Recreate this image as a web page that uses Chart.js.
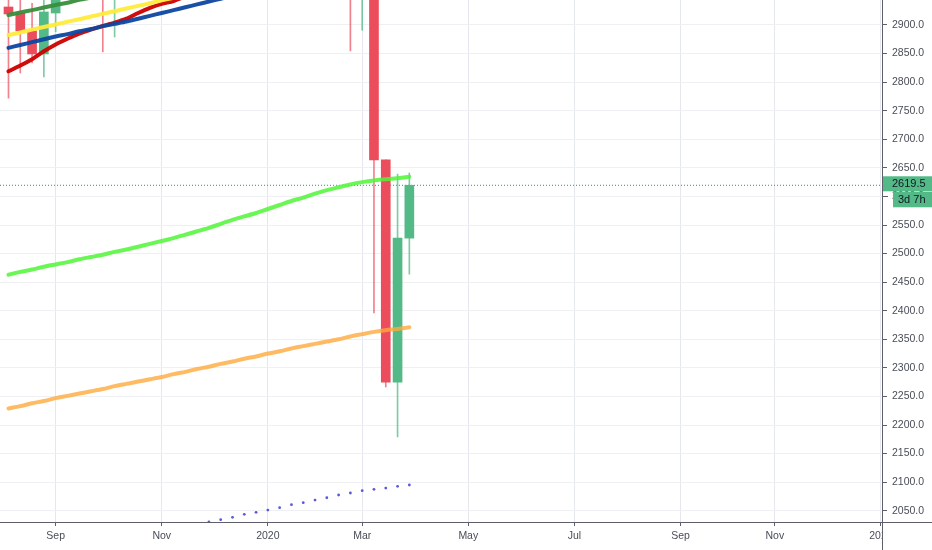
<!DOCTYPE html>
<html>
<head>
<meta charset="utf-8">
<script src="https://cdn.jsdelivr.net/npm/chart.js@4.4.1/dist/chart.umd.min.js"></script>
<style>
html,body{margin:0;padding:0;background:#ffffff;}
#wrap{position:relative;width:932px;height:550px;}
</style>
</head>
<body>
<div id="wrap"><canvas id="c"></canvas></div>
<script>
// ---- weekly candles (ES continuous) ----
const weekStarts = ["2019-08-05","2019-08-12","2019-08-19","2019-08-26","2019-09-02","2019-09-09","2019-09-16","2019-09-23","2019-09-30","2019-10-07","2019-10-14","2019-10-21","2019-10-28","2019-11-04","2019-11-11","2019-11-18","2019-11-25","2019-12-02","2019-12-09","2019-12-16","2019-12-23","2019-12-30","2020-01-06","2020-01-13","2020-01-20","2020-01-27","2020-02-03","2020-02-10","2020-02-17","2020-02-24","2020-03-02","2020-03-09","2020-03-16","2020-03-23","2020-03-30"];
const opens  = [2931.5,2921,2889.5,2849.3,2921,2980,3000,2993,2963,2953,2970,2987,3022,3066,3093,3120,3110,3141,3146,3169,3223,3242,3235,3265,3325,3295,3224,3327,3380,3338,2951,2972,2664,2275,2527];
const highs  = [2960,2950,2938,2955,2990,3021,3024,3006,2985,2990,3002,3027,3068,3098,3122,3128,3147,3155,3197,3226,3249,3259,3282,3329,3337,3305,3337,3385,3397,3351,3137,2990,2664,2639,2641];
const lows   = [2772,2816,2833.5,2809,2888,2975,2980,2950,2853,2879,2958,2980,3010,3060,3080,3090,3105,3070,3130,3166,3220,3210,3208,3254,3270,3212,3214,3312,3325,2854.5,2891,2396,2266.5,2179,2464];
const closes = [2919.3,2889.5,2849.3,2922.8,2978,3009,2993,2963,2953,2970,2986,3022,3066,3093,3120,3110,3141,3146,3169,3223,3242,3235,3265,3325,3295,3224,3327,3380,3338,2951,2972,2664,2275,2527,2619.5];

// ---- moving averages (visible parts, null where off chart) ----
const maDarkGreen = [2917.5,2922,2926,2930.5,2935,2939,2944,2948,2952,null,null,null,null,null,null,null,null,null,null,null,null,null,null,null,null,null,null,null,null,null,null,null,null,null,null];
const maYellow = [2882.5,2887,2892,2896.5,2901,2905.7,2910,2915,2919.6,2924,2929,2933.5,2938,2943,2947.5,2952,null,null,null,null,null,null,null,null,null,null,null,null,null,null,null,null,null,null,null];
const maBlue = [2860,2865,2870,2875,2880,2884,2889,2893,2898,2902,2906,2911,2916,2921,2926,2931,2936,2941,2946,2951,null,null,null,null,null,null,null,null,null,null,null,null,null,null,null];
const maRed = [2819,2829,2840,2854,2866,2876,2885,2892,2898,2904,2911,2921,2930,2937,2942,2950,2958,null,null,null,null,null,null,null,null,null,null,null,null,null,null,null,null,null,null];
const maLime = [2463,2468,2472,2477,2481,2485,2490,2494,2498,2503,2507,2512,2517,2522,2527,2533,2539,2545,2552,2559,2565,2571,2578,2585,2592,2598,2605,2611,2616,2621,2625,2628,2630,2632,2634.5];
const maOrange = [2229,2233,2238,2242,2247,2251,2255,2259,2263,2268,2272,2276,2280,2284,2289,2293,2298,2302,2307,2311,2316,2320,2325,2329,2334,2338,2342,2346,2350,2355,2359,2363,2366,2368,2371];
const maDots = [null,null,null,null,null,null,null,null,null,null,null,null,null,null,null,null,null,2030.3,2034.3,2038.5,2043.7,2047.2,2051.2,2055.3,2060.5,2064,2068.7,2072.7,2077.5,2081,2085,2087.5,2089.7,2092.7,2095];

// ---- axis ticks ----
const monthTickWeeks = [4,13,22,30,39,48,57,65,74];
const monthTickLabels = ["Sep","Nov","2020","Mar","May","Jul","Sep","Nov","2021"];
const priceTicks = [2050,2100,2150,2200,2250,2300,2350,2400,2450,2500,2550,2600,2650,2700,2750,2800,2850,2900];
const lastPrice = 2619.5;
const countdownText = "3d 7h";

const X_MIN = -0.72, X_MAX = 74.09;
const Y_MIN = 2030.25, Y_MAX = 2943.75;

const UP = "#53b987", DOWN = "#eb4d5c";
const UP_W = "rgba(83,185,135,0.75)", DOWN_W = "rgba(235,77,92,0.7)";

const pts = arr => arr.map((v,i)=>({x:i, y:v}));
const isUp = weekStarts.map((d,i)=>closes[i] >= opens[i]);

const lineDs = (arr, color, width) => ({
  type:'line', data: pts(arr), borderColor: color, borderWidth: width,
  pointRadius:0, tension:0.25, spanGaps:false, borderCapStyle:'round',
  borderJoinStyle:'round', order:0
});

const noPad = s => { s.paddingTop = 0; s.paddingBottom = 0; s.paddingLeft = 0; s.paddingRight = 0; };

const overlayPlugin = {
  id:'overlay',
  beforeDraw(chart){
    const ctx = chart.ctx;
    ctx.save(); ctx.fillStyle = '#ffffff';
    ctx.fillRect(0,0,chart.width,chart.height); ctx.restore();
  },
  afterDraw(chart){
    const ctx = chart.ctx, a = chart.chartArea, ys = chart.scales.y;
    ctx.save();
    // hide the part of the last date label under the price scale
    ctx.fillStyle = '#ffffff';
    ctx.fillRect(a.right+1, a.bottom+1, chart.width - a.right, chart.height - a.bottom);
    // axis lines
    ctx.strokeStyle = '#5d606b'; ctx.lineWidth = 1;
    ctx.beginPath(); ctx.moveTo(0, a.bottom+0.5); ctx.lineTo(chart.width, a.bottom+0.5); ctx.stroke();
    ctx.beginPath(); ctx.moveTo(a.right+0.5, 0); ctx.lineTo(a.right+0.5, chart.height); ctx.stroke();
    // last price label
    const py = ys.getPixelForValue(lastPrice);
    ctx.fillStyle = UP;
    ctx.fillRect(a.right+1, py-9, chart.width-a.right-1, 15);
    ctx.fillRect(a.right+11, py+6.5, chart.width-a.right-11, 15.5);
    ctx.fillStyle = '#131722';
    ctx.font = '11px "Liberation Sans", Arial, sans-serif';
    ctx.textBaseline = 'middle'; ctx.textAlign = 'left';
    ctx.fillText(lastPrice.toFixed(1), a.right+10, py-1.5);
    ctx.fillText(countdownText, a.right+16, py+14.5);
    // tick mark for 2600 hidden behind the box
    ctx.strokeStyle = '#5d606b';
    const t = Math.round(ys.getPixelForValue(2600))+0.5;
    ctx.beginPath(); ctx.moveTo(a.right+1, t); ctx.lineTo(a.right+6, t); ctx.stroke();
    ctx.restore();
  }
};

new Chart(document.getElementById('c'), {
  type:'bar',
  data:{
    datasets:[
      lineDs(maDarkGreen, 'rgba(56,142,60,0.95)', 4),
      lineDs(maYellow, 'rgba(255,235,59,0.95)', 4),
      lineDs(maBlue, 'rgba(13,71,161,0.95)', 4),
      lineDs(maRed, 'rgba(204,0,0,0.95)', 4),
      lineDs(maLime, 'rgba(80,245,55,0.85)', 4),
      lineDs(maOrange, 'rgba(255,170,60,0.8)', 4),
      {
        type:'line', data: pts(maDots), showLine:false, pointRadius:1.4,
        pointBackgroundColor:'#5a5ad8', pointBorderColor:'#5a5ad8', pointBorderWidth:0, order:0
      },
      {
        type:'line', data:[{x:X_MIN,y:lastPrice},{x:X_MAX,y:lastPrice}],
        borderColor:'#3b8a77', borderWidth:1, borderDash:[1,2], pointRadius:0, order:3
      },
      {
        type:'bar', data: weekStarts.map((d,i)=>({x:i, y:[opens[i], closes[i]]})),
        backgroundColor: isUp.map(u=>u?UP:DOWN), borderWidth:0,
        barThickness:9, grouped:false, order:1
      },
      {
        type:'bar', data: weekStarts.map((d,i)=>({x:i, y:[lows[i], highs[i]]})),
        backgroundColor: isUp.map(u=>u?UP_W:DOWN_W), borderWidth:0,
        barThickness:1, grouped:false, order:2
      }
    ]
  },
  options:{
    responsive:true, maintainAspectRatio:false, animation:false, devicePixelRatio:1,
    layout:{padding:0, autoPadding:false},
    plugins:{legend:{display:false}, tooltip:{enabled:false}},
    scales:{
      x:{
        type:'linear', min:X_MIN, max:X_MAX, offset:false,
        grid:{color:'#e4e8ee', offset:false, drawTicks:true, tickLength:4, tickColor:'#5d606b'},
        border:{display:false},
        afterBuildTicks(s){ s.ticks = monthTickWeeks.map(v=>({value:v})); },
        afterFit(s){ s.height = 28; noPad(s); },
        ticks:{
          autoSkip:false, maxRotation:0, padding:4, color:'#4a4d57',
          font:{family:'"Liberation Sans", Arial, sans-serif', size:10.5},
          callback(v){ const k = monthTickWeeks.indexOf(v); return k>=0 ? monthTickLabels[k] : ''; }
        }
      },
      y:{
        type:'linear', position:'right', min:Y_MIN, max:Y_MAX, beginAtZero:false,
        grid:{color:'#eef0f4', drawTicks:true, tickLength:5, tickColor:'#5d606b'},
        border:{display:false},
        afterBuildTicks(s){ s.ticks = priceTicks.map(v=>({value:v})); },
        afterFit(s){ s.width = 50; noPad(s); },
        ticks:{
          autoSkip:false, padding:5, color:'#4a4d57',
          font:{family:'"Liberation Sans", Arial, sans-serif', size:10.5},
          callback(v){ return Number(v).toFixed(1); }
        }
      }
    }
  },
  plugins:[overlayPlugin]
});
</script>
</body>
</html>
